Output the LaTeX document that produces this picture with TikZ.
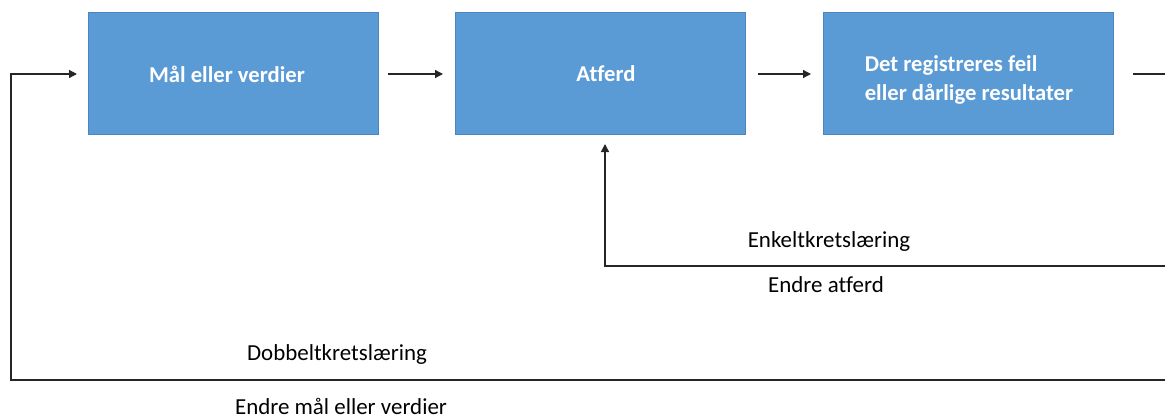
\documentclass[tikz,border=0pt]{standalone}
\usepackage{fontspec}
\setmainfont{Carlito}[Ligatures=NoCommon]
\usetikzlibrary{arrows.meta}
\definecolor{boxfill}{HTML}{5B9BD5}
\definecolor{boxedge}{HTML}{4A86C2}
\definecolor{linec}{HTML}{262626}
\tikzset{
  blk/.style={draw=boxedge, line width=0.75pt, fill=boxfill, minimum width=217.5pt, minimum height=91.5pt, inner sep=0pt},
  blktext/.style={text=white, font=\bfseries\fontsize{17}{21.75}\selectfont, inner sep=0pt},
  conn/.style={draw=linec, line width=1pt, -{Triangle[length=6pt,width=6pt]}},
  plain/.style={draw=linec, line width=1pt},
  lbl/.style={font=\fontsize{17.2}{20}\selectfont, text=black, inner sep=0pt}
}
\begin{document}
\begin{tikzpicture}[x=0.75pt,y=-0.75pt]
\useasboundingbox (0,0) rectangle (1165,418);
\node[blk] (b1) at (233,73) {};
\node[blk] (b2) at (600,73) {};
\node[blk] (b3) at (968,73) {};
\node[blktext] (t1) at (227,74) {Mål eller verdier};
\node[blktext] (t2) at (606,74) {Atferd};
\node[blktext, align=left] (t3) at (969,80) {Det registreres feil\\eller dårlige resultater};
\coordinate (a1s) at (388,74);
\coordinate (a1e) at (443,74);
\coordinate (a2s) at (758,74);
\coordinate (a2e) at (811,74);
\coordinate (a3s) at (1133,74);
\coordinate (a3e) at (1165,74);
\draw[conn] (a1s) -- (a1e);
\draw[conn] (a2s) -- (a2e);
\draw[plain] (a3s) -- (a3e);
% single loop
\coordinate (s1) at (1165,266);
\coordinate (s2) at (605,266);
\coordinate (s3) at (605,144);
\draw[conn] (s1) -- (s2) -- (s3);
% double loop
\coordinate (d1) at (1165,380);
\coordinate (d2) at (11,380);
\coordinate (d3) at (11,74);
\coordinate (d4) at (77,74);
\draw[conn] (d1) -- (d2) -- (d3) -- (d4);
\node[lbl] (l1) at (829,242) {Enkeltkretslæring};
\node[lbl] (l2) at (826,285) {Endre atferd};
\node[lbl] (l3) at (337,355) {Dobbeltkretslæring};
\node[lbl] (l4) at (341,406) {Endre mål eller verdier};
\end{tikzpicture}
\end{document}
